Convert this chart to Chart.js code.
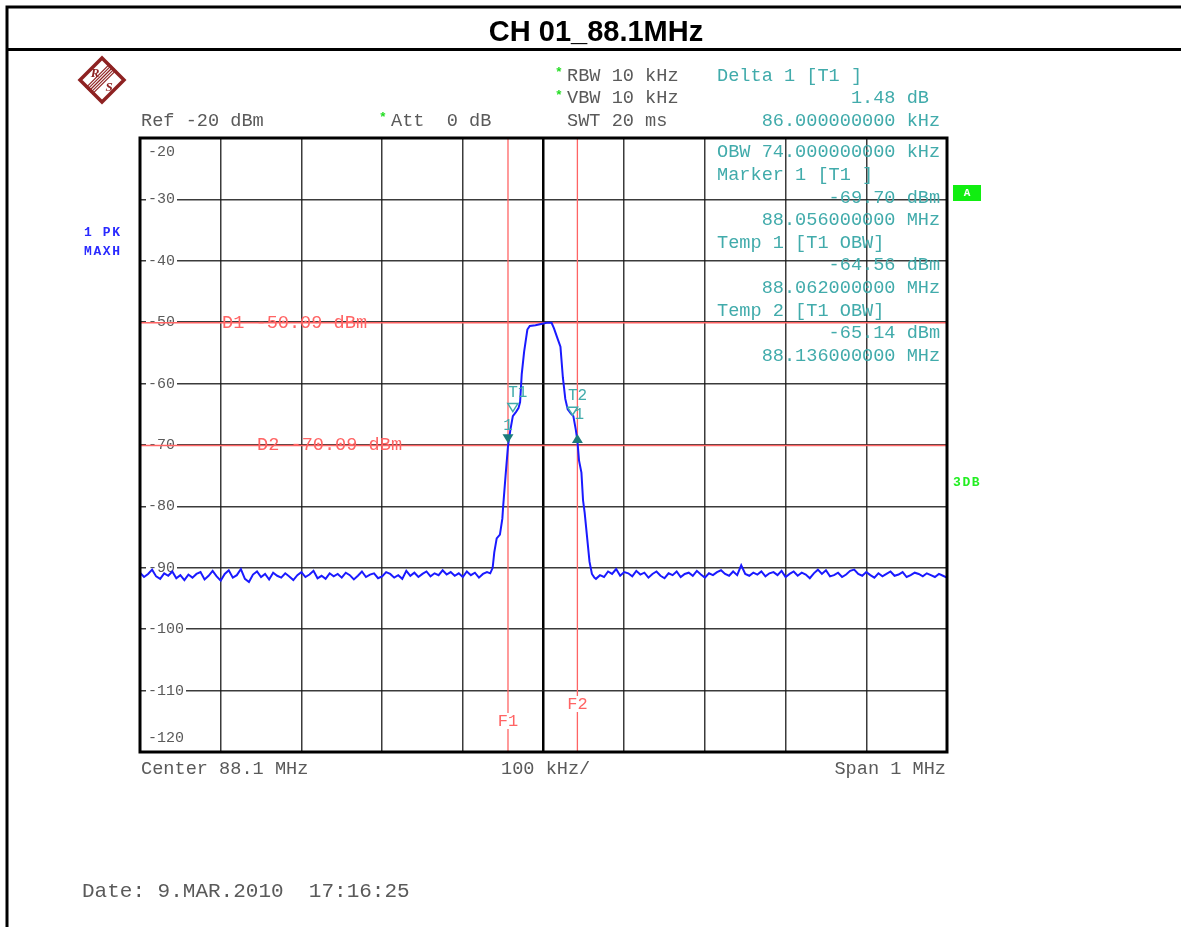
<!DOCTYPE html>
<html>
<head>
<meta charset="utf-8">
<script src="https://cdn.jsdelivr.net/npm/chart.js@4/dist/chart.umd.min.js"></script>
<style>
html,body{margin:0;padding:0;background:#fff;}
canvas{display:block;}
</style>
</head>
<body>
<canvas id="c" width="1181" height="927"></canvas>
<script>
// ---------------- DATA ----------------
const title = 'CH 01_88.1MHz';
const freqMin = 87.6;          // MHz (Center 88.1, Span 1 MHz)
const freqMax = 88.6;
const centerFreq = 88.1;
const levelMin = -120;         // dBm
const levelMax = -20;
const yTickValues = [-20, -30, -40, -50, -60, -70, -80, -90, -100, -110, -120];
const xTickStep = 0.1;         // 100 kHz/div

// sweep grid step for the noise floor parts of the trace (MHz)
const sweepStep = 0.005;
const leftNoiseStart = 87.600;
const leftNoise = [
  -90.8,-91.5,-91.0,-90.3,-91.4,-91.8,-90.9,-91.3,-90.6,-91.7,
  -91.2,-92.0,-91.1,-91.6,-91.0,-90.7,-91.9,-91.3,-90.5,-91.4,
  -92.1,-91.0,-90.4,-91.6,-91.2,-90.2,-91.8,-92.3,-91.1,-90.6,
  -91.5,-91.0,-91.9,-90.8,-91.3,-91.6,-90.9,-91.4,-92.0,-91.2,
  -90.7,-91.5,-91.1,-90.5,-91.7,-91.3,-91.8,-90.9,-91.4,-91.0,
  -91.6,-90.8,-91.2,-91.9,-91.3,-90.6,-91.5,-91.1,-90.9,-91.7,
  -91.4,-90.7,-91.0,-91.6,-91.2,-91.8,-90.5,-91.3,-90.8,-91.5,
  -91.0,-90.6,-91.4,-90.9,-91.2,-90.4,-91.1,-90.7,-91.3,-90.9,
  -91.5,-90.6,-91.2,-90.8,-91.6,-91.0,-90.7
];
// signal region (irregular points)
const signalFreqs = [
  88.034, 88.037, 88.039, 88.042, 88.046, 88.049, 88.050, 88.053, 88.056, 88.059,
  88.062, 88.066, 88.069, 88.071, 88.073, 88.076, 88.080, 88.083, 88.090, 88.097,
  88.104, 88.110, 88.113, 88.117, 88.121, 88.124, 88.127, 88.130, 88.134, 88.137,
  88.140, 88.142, 88.144, 88.147, 88.149, 88.151, 88.154, 88.157, 88.160, 88.163
];
const signalLevels = [
  -90.9, -90.0, -87.5, -85.2, -84.6, -82.0, -80.0, -75.0, -70.2, -67.5,
  -65.3, -64.6, -64.0, -63.0, -58.5, -54.8, -51.2, -50.6, -50.5, -50.3,
  -50.1, -50.1, -51.0, -52.5, -54.0, -59.0, -62.5, -64.2, -64.9, -65.3,
  -67.5, -69.3, -72.5, -74.5, -79.0, -81.0, -85.0, -89.0, -91.0, -91.6
];
const rightNoiseStart = 88.165;
const rightNoise = [
  -91.8,-91.2,-91.5,-90.6,-91.0,-90.2,-91.3,-90.7,-90.9,-91.4,
  -90.5,-91.1,-90.8,-91.6,-91.0,-90.6,-91.3,-91.7,-90.9,-91.2,
  -90.6,-91.5,-91.0,-90.8,-91.3,-90.5,-91.1,-91.6,-90.9,-91.2,
  -90.7,-90.4,-91.0,-91.3,-90.6,-91.2,-89.6,-91.0,-91.3,-90.8,
  -91.1,-90.6,-91.4,-90.9,-90.7,-91.2,-90.5,-91.5,-91.0,-90.6,
  -91.3,-90.8,-91.1,-91.7,-90.9,-90.3,-91.0,-90.4,-91.4,-91.2,
  -90.8,-91.5,-91.1,-90.5,-90.3,-91.0,-91.3,-90.7,-91.2,-91.6,
  -90.9,-91.4,-91.0,-90.6,-91.3,-91.1,-90.7,-91.5,-91.2,-90.8,
  -91.0,-91.4,-90.9,-91.2,-91.5,-91.0,-91.3,-91.6
];

// display lines and frequency lines
const displayLineLevels = [-50.09, -70.09];
const displayLineLabels = ['D1 -50.09 dBm', 'D2 -70.09 dBm'];
const freqLineValues = [88.056, 88.142];
const freqLineLabels = ['F1', 'F2'];

// markers: marker 1, delta 1, temp 1, temp 2
const markerFreqs  = [88.056, 88.142, 88.062, 88.136];
const markerLevels = [-69.70, -68.22, -64.56, -65.14];
const markerLabels = ['1', '1', 'T1', 'T2'];

// instrument texts
const headerLeft = ['Ref -20 dBm', 'Att  0 dB'];
const headerMid = ['RBW 10 kHz', 'VBW 10 kHz', 'SWT 20 ms'];
const headerRight = ['Delta 1 [T1 ]', '            1.48 dB', '    86.000000000 kHz'];
const panelLines = [
  'OBW 74.000000000 kHz',
  'Marker 1 [T1 ]',
  '          -69.70 dBm',
  '    88.056000000 MHz',
  'Temp 1 [T1 OBW]',
  '          -64.56 dBm',
  '    88.062000000 MHz',
  'Temp 2 [T1 OBW]',
  '          -65.14 dBm',
  '    88.136000000 MHz'
];
const traceInfo = ['1 PK', 'MAXH'];
const bottomTexts = ['Center 88.1 MHz', '100 kHz/', 'Span 1 MHz'];
const dateText = 'Date: 9.MAR.2010  17:16:25';

// ---------------- BUILD TRACE ----------------
const trace = [];
leftNoise.forEach((v, i) => trace.push({x: leftNoiseStart + i * sweepStep, y: v}));
signalFreqs.forEach((f, i) => trace.push({x: f, y: signalLevels[i]}));
rightNoise.forEach((v, i) => trace.push({x: rightNoiseStart + i * sweepStep, y: v}));

// ---------------- STYLE ----------------
const MONO = '"Liberation Mono", "DejaVu Sans Mono", monospace';
const GREY = '#5a5a5a';
const TEAL = '#41abab';
const DKTEAL = '#1c7c7c';
const RED = '#ff6464';
const GRID = 'rgba(25,25,25,0.85)';
const F = 18.6;   // main mono font size

function txt(ctx, s, x, y, font, color, align) {
  ctx.font = font;
  ctx.fillStyle = color;
  ctx.textAlign = align || 'left';
  ctx.textBaseline = 'middle';
  ctx.fillText(s, x, y);
}

const deco = {
  id: 'deco',
  beforeDraw(chart) {
    const ctx = chart.ctx;
    ctx.save();
    ctx.fillStyle = '#fff';
    ctx.fillRect(0, 0, chart.width, chart.height);
    // frame
    ctx.strokeStyle = '#000';
    ctx.lineWidth = 3;
    ctx.beginPath();
    ctx.moveTo(7, 940); ctx.lineTo(7, 7); ctx.lineTo(1190, 7);
    ctx.moveTo(7, 49.5); ctx.lineTo(1190, 49.5);
    ctx.stroke();
    // title
    txt(ctx, title, 596, 33, 'bold 29px "Liberation Sans", Arial, sans-serif', '#000', 'center');
    // R&S logo
    ctx.save();
    ctx.translate(102, 80);
    ctx.strokeStyle = '#8e2222';
    ctx.fillStyle = '#8e2222';
    ctx.lineWidth = 3.5;
    ctx.beginPath();
    ctx.moveTo(0, -22); ctx.lineTo(22, 0); ctx.lineTo(0, 22); ctx.lineTo(-22, 0); ctx.closePath();
    ctx.stroke();
    ctx.lineWidth = 1.2;
    for (let k = -2; k <= 2; k++) {
      ctx.beginPath();
      ctx.moveTo(-13 + k * 1.6, 11 + k * 1.6);
      ctx.lineTo(11 + k * 1.6, -13 + k * 1.6);
      ctx.stroke();
    }
    ctx.font = 'italic bold 13px "Liberation Serif", serif';
    ctx.textAlign = 'center'; ctx.textBaseline = 'middle';
    ctx.fillText('R', -7, -6);
    ctx.fillText('S', 7, 8);
    ctx.restore();
    // header texts
    const mf = F + 'px ' + MONO;
    txt(ctx, headerLeft[0], 141, 121, mf, GREY);
    txt(ctx, '*', 383, 118, 'bold 13px ' + MONO, '#22dd22', 'center');
    txt(ctx, headerLeft[1], 391, 121, mf, GREY);
    txt(ctx, '*', 559, 73, 'bold 13px ' + MONO, '#22dd22', 'center');
    txt(ctx, '*', 559, 96, 'bold 13px ' + MONO, '#22dd22', 'center');
    txt(ctx, headerMid[0], 567, 76, mf, GREY);
    txt(ctx, headerMid[1], 567, 98.5, mf, GREY);
    txt(ctx, headerMid[2], 567, 121, mf, GREY);
    txt(ctx, headerRight[0], 717, 76, mf, TEAL);
    txt(ctx, headerRight[1], 717, 98.5, mf, TEAL);
    txt(ctx, headerRight[2], 717, 121, mf, TEAL);
    // trace info
    ctx.letterSpacing = '1.6px';
    txt(ctx, traceInfo[0], 84, 233, 'bold 13px ' + MONO, '#2a2aff');
    txt(ctx, traceInfo[1], 84, 252, 'bold 13px ' + MONO, '#2a2aff');
    txt(ctx, '3DB', 953, 483, 'bold 13px ' + MONO, '#22ee22');
    ctx.letterSpacing = '0px';
    // A box
    ctx.fillStyle = '#11ee11';
    ctx.fillRect(953, 185, 28, 16);
    txt(ctx, 'A', 967, 193.5, 'bold 11px ' + MONO, '#fff', 'center');
    ctx.restore();
  },
  beforeDatasetsDraw(chart) {
    const ctx = chart.ctx;
    const xs = chart.scales.x, ys = chart.scales.y;
    const a = chart.chartArea;
    ctx.save();
    // y tick labels with white background
    ctx.font = '15px ' + MONO;
    yTickValues.forEach(v => {
      let y = ys.getPixelForValue(v);
      if (v === levelMax) y += 14;
      if (v === levelMin) y -= 14;
      const s = String(v);
      const w = ctx.measureText(s).width;
      ctx.fillStyle = '#fff';
      ctx.fillRect(a.left + 6, y - 6, w + 4, 12);
      txt(ctx, s, a.left + 8, y, '15px ' + MONO, GREY);
      ctx.font = '15px ' + MONO;
    });
    // display lines
    ctx.strokeStyle = RED;
    ctx.lineWidth = 1.5;
    displayLineLevels.forEach(v => {
      const y = ys.getPixelForValue(v);
      ctx.beginPath(); ctx.moveTo(a.left, y); ctx.lineTo(a.right, y); ctx.stroke();
    });
    ctx.lineWidth = 1.3;
    freqLineValues.forEach(f => {
      const x = xs.getPixelForValue(f);
      ctx.beginPath(); ctx.moveTo(x, a.top); ctx.lineTo(x, a.bottom); ctx.stroke();
    });
    // display line labels
    txt(ctx, displayLineLabels[0], 222, ys.getPixelForValue(displayLineLevels[0]), F + 'px ' + MONO, RED);
    txt(ctx, displayLineLabels[1], 257, ys.getPixelForValue(displayLineLevels[1]), F + 'px ' + MONO, RED);
    // freq line labels
    const fy = [721, 704];
    freqLineValues.forEach((f, i) => {
      const x = xs.getPixelForValue(f);
      ctx.fillStyle = '#fff';
      ctx.fillRect(x - 11, fy[i] - 8, 22, 16);
      txt(ctx, freqLineLabels[i], x, fy[i], '17px ' + MONO, RED, 'center');
    });
    ctx.restore();
  },
  afterDatasetsDraw(chart) {
    const ctx = chart.ctx;
    const xs = chart.scales.x, ys = chart.scales.y;
    const a = chart.chartArea;
    ctx.save();
    // markers
    markerFreqs.forEach((f, i) => {
      const x = xs.getPixelForValue(f);
      const y = ys.getPixelForValue(markerLevels[i]);
      ctx.beginPath();
      if (i === 1) { // delta: filled triangle pointing up, apex at value
        ctx.moveTo(x, y); ctx.lineTo(x + 5.5, y + 9); ctx.lineTo(x - 5.5, y + 9); ctx.closePath();
        ctx.fillStyle = DKTEAL; ctx.fill();
        txt(ctx, markerLabels[i], x + 2, y - 19, '16px ' + MONO, TEAL, 'center');
      } else if (i === 0) { // marker: filled triangle pointing down
        ctx.moveTo(x, y); ctx.lineTo(x + 5.5, y - 9); ctx.lineTo(x - 5.5, y - 9); ctx.closePath();
        ctx.fillStyle = DKTEAL; ctx.fill();
        txt(ctx, markerLabels[i], x, y - 17, '16px ' + MONO, TEAL, 'center');
      } else { // temp: open triangle pointing down
        ctx.moveTo(x, y); ctx.lineTo(x + 5, y - 8); ctx.lineTo(x - 5, y - 8); ctx.closePath();
        ctx.strokeStyle = TEAL; ctx.lineWidth = 1.5; ctx.stroke();
        txt(ctx, markerLabels[i], x + 5, y - 19, '16px ' + MONO, TEAL, 'center');
      }
    });
    // plot border
    ctx.strokeStyle = '#000';
    ctx.lineWidth = 3;
    ctx.strokeRect(a.left, a.top, a.right - a.left, a.bottom - a.top);
    // panel texts
    const mf = F + 'px ' + MONO;
    panelLines.forEach((s, i) => txt(ctx, s, 717, 152.5 + i * 22.6, mf, TEAL));
    // bottom texts
    txt(ctx, bottomTexts[0], 141, 769, mf, GREY);
    txt(ctx, bottomTexts[1], 501, 769, mf, GREY);
    txt(ctx, bottomTexts[2], 946, 769, mf, GREY, 'right');
    txt(ctx, dateText, 82, 891, '21px ' + MONO, GREY);
    ctx.restore();
  }
};

new Chart(document.getElementById('c'), {
  type: 'line',
  data: {
    datasets: [{
      data: trace,
      borderColor: '#1a1aff',
      borderWidth: 2,
      pointRadius: 0,
      tension: 0,
      fill: false
    }]
  },
  options: {
    responsive: false,
    animation: false,
    events: [],
    layout: { padding: { left: 140, top: 138, right: 234, bottom: 175 } },
    plugins: { legend: { display: false }, tooltip: { enabled: false } },
    scales: {
      x: {
        type: 'linear', min: freqMin, max: freqMax,
        ticks: { display: false, stepSize: xTickStep },
        grid: {
          drawTicks: false,
          color: ctx => Math.abs(ctx.tick.value - centerFreq) < 1e-6 ? '#000' : GRID,
          lineWidth: ctx => Math.abs(ctx.tick.value - centerFreq) < 1e-6 ? 2.5 : 1.5
        },
        border: { display: false }
      },
      y: {
        type: 'linear', min: levelMin, max: levelMax,
        ticks: { display: false, stepSize: 10 },
        grid: { drawTicks: false, color: GRID, lineWidth: 1.5 },
        border: { display: false }
      }
    }
  },
  plugins: [deco]
});
</script>
</body>
</html>
